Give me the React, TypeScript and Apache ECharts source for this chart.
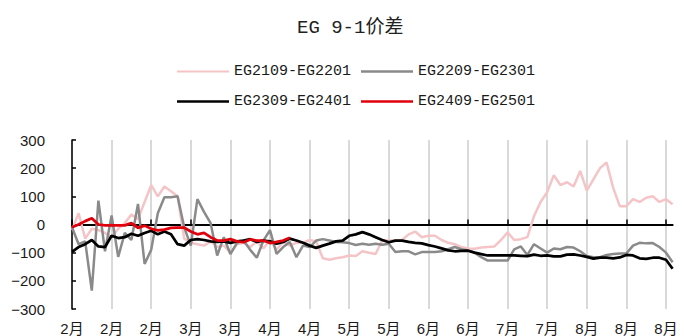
import React, { useEffect, useRef } from "react";
import * as echarts from "echarts";

const tickLabels = ["2月", "2月", "2月", "3月", "3月", "4月", "4月", "5月", "5月", "6月", "6月", "7月", "7月", "8月", "8月", "8月"];

const seriesNames = ["EG2109-EG2201", "EG2209-EG2301", "EG2309-EG2401", "EG2409-EG2501"];

const eg2109 = [
  -20, 40, -50, -15, -20, -30, -45, -15, 5, 35, 20, 80, 140, 100, 135, 118, 100, -50, -65, -70,
  -75, -60, -80, -75, -100, -70, -65, -80, -60, -85, -55, -90, -60, -75, -65, -65, -55, -60, -120, -125,
  -120, -116, -110, -112, -95, -100, -105, -57, -57, -57, -55, -35, -25, -45, -40, -40, -55, -65, -70, -80,
  -85, -86, -82, -80, -78, -55, -28, -55, -52, -45, 30, 80, 115, 175, 140, 150, 135, 190, 120, 160,
  200, 220, 130, 65, 65, 90, 80, 95, 100, 80, 90, 72,
];

const eg2209 = [
  -10, -70, -60, -235, 85, -95, 32, -115, -30, -55, 73, -140, -90, 40, 97, 97, 100, -10, -75, 90,
  45, 5, -110, -45, -105, -65, -57, -90, -118, -57, -20, -104, -80, -62, -116, -75, -80, -57, -52, -57,
  -62, -63, -66, -73, -68, -72, -68, -72, -68, -98, -95, -95, -106, -98, -98, -98, -95, -88, -80, -88,
  -92, -100, -116, -128, -128, -128, -128, -88, -78, -108, -70, -85, -100, -85, -88, -80, -82, -95, -112, -116,
  -116, -108, -105, -103, -103, -75, -65, -67, -66, -80, -100, -134,
];

const eg2309 = [
  -97, -80, -70, -55, -78, -80, -40, -48, -45, -33, -40, -30, -22, -35, -25, -35, -70, -75, -55, -52,
  -55, -60, -62, -60, -65, -60, -57, -52, -62, -57, -60, -68, -62, -50, -57, -65, -75, -83, -75, -68,
  -60, -57, -40, -35, -27, -35, -45, -55, -63, -57, -57, -62, -65, -67, -73, -78, -85, -92, -95, -94,
  -93, -100, -105, -110, -110, -110, -110, -110, -111, -112, -107, -111, -110, -113, -113, -107, -106, -110, -115, -121,
  -118, -118, -120, -117, -108, -110, -120, -122, -118, -118, -125, -157,
];

const eg2409: (number | null)[] = [
  -10, 0, 12, 22, 0, -3, -3, -3, -3, 5, -12, -4, -15, -21, -18, -12, -11, -11, -25, -35,
  -30, -45, -57, -57, -52, -60, -63, -53, -57, -57, -66, -62, -57, -47,
];

const categories = eg2309.map((_, i) => String(i));

const colors = ["#f5c4c6", "#8a8a8a", "#000000", "#e0000b"];
const widths = [2.5, 2.5, 2.75, 2.75];
const legendHeights = [2, 2.5, 2.5, 2.5];
const seriesData = [eg2109, eg2209, eg2309, eg2409];

const legendPos = [
  { left: 172, top: 59 },
  { left: 356, top: 59 },
  { left: 172, top: 89 },
  { left: 356, top: 89 },
];

export default function App() {
  const ref = useRef<HTMLDivElement>(null);

  useEffect(() => {
    if (!ref.current) return;
    const chart = echarts.init(ref.current, undefined, { renderer: "svg" });
    const latin = "'Liberation Sans', 'Noto Sans CJK SC', sans-serif";
    const mono = "'Liberation Mono', 'Noto Sans CJK SC', monospace";
    chart.setOption({
      animation: false,
      backgroundColor: "#ffffff",
      title: {
        text: "EG 9-1价差",
        left: 292,
        top: 13,
        textStyle: { fontFamily: mono, fontSize: 19, fontWeight: "normal", color: "#222" },
      },
      legend: seriesNames.map((name, i) => ({
        data: [name],
        left: legendPos[i].left,
        top: legendPos[i].top,
        icon: "rect",
        itemWidth: 52,
        itemHeight: legendHeights[i],
        textStyle: { fontFamily: mono, fontSize: 15, color: "#1a1a1a" },
      })),
      grid: { left: 72, right: 11.4, top: 140, bottom: 27, outerBoundsMode: "none" },
      xAxis: [
        {
          type: "category",
          data: categories,
          boundaryGap: false,
          position: "bottom",
          axisLine: { show: false, onZero: false },
          axisTick: { show: false },
          axisLabel: {
            interval: 5,
            margin: 12,
            fontFamily: latin,
            fontSize: 15,
            color: "#1a1a1a",
            formatter: (_v: string, idx: number) => tickLabels[Math.round(idx / 6)] ?? "",
          },
          splitLine: { show: true, interval: 5, lineStyle: { color: "#d9d9d9", width: 2 } },
        },
        {
          type: "category",
          data: categories,
          boundaryGap: false,
          position: "bottom",
          axisLine: { show: true, onZero: true, lineStyle: { color: "#000", width: 2 } },
          axisTick: { show: true, inside: true, interval: 5, length: 5, lineStyle: { color: "#000", width: 1.5 } },
          axisLabel: { show: false },
          splitLine: { show: false },
        },
      ],
      yAxis: {
        type: "value",
        min: -300,
        max: 300,
        interval: 100,
        axisLine: { show: true, lineStyle: { color: "#000", width: 1.5 } },
        axisTick: { show: true, inside: true, length: 4, lineStyle: { color: "#000", width: 1.5 } },
        splitLine: { show: false },
        axisLabel: {
          margin: 27,
          fontFamily: latin,
          fontSize: 15,
          color: "#1a1a1a",
          formatter: (v: number) => (v < 0 ? "\u2212" + Math.abs(v) : String(v)),
        },
      },
      series: seriesNames.map((name, i) => ({
        name,
        type: "line",
        xAxisIndex: 0,
        yAxisIndex: 0,
        symbol: "none",
        data: seriesData[i],
        lineStyle: { color: colors[i], width: widths[i] },
        itemStyle: { color: colors[i] },
      })),
    });
    return () => chart.dispose();
  }, []);

  return <div ref={ref} style={{ position: "fixed", left: 0, top: 0, width: 684, height: 336 }} />;
}
